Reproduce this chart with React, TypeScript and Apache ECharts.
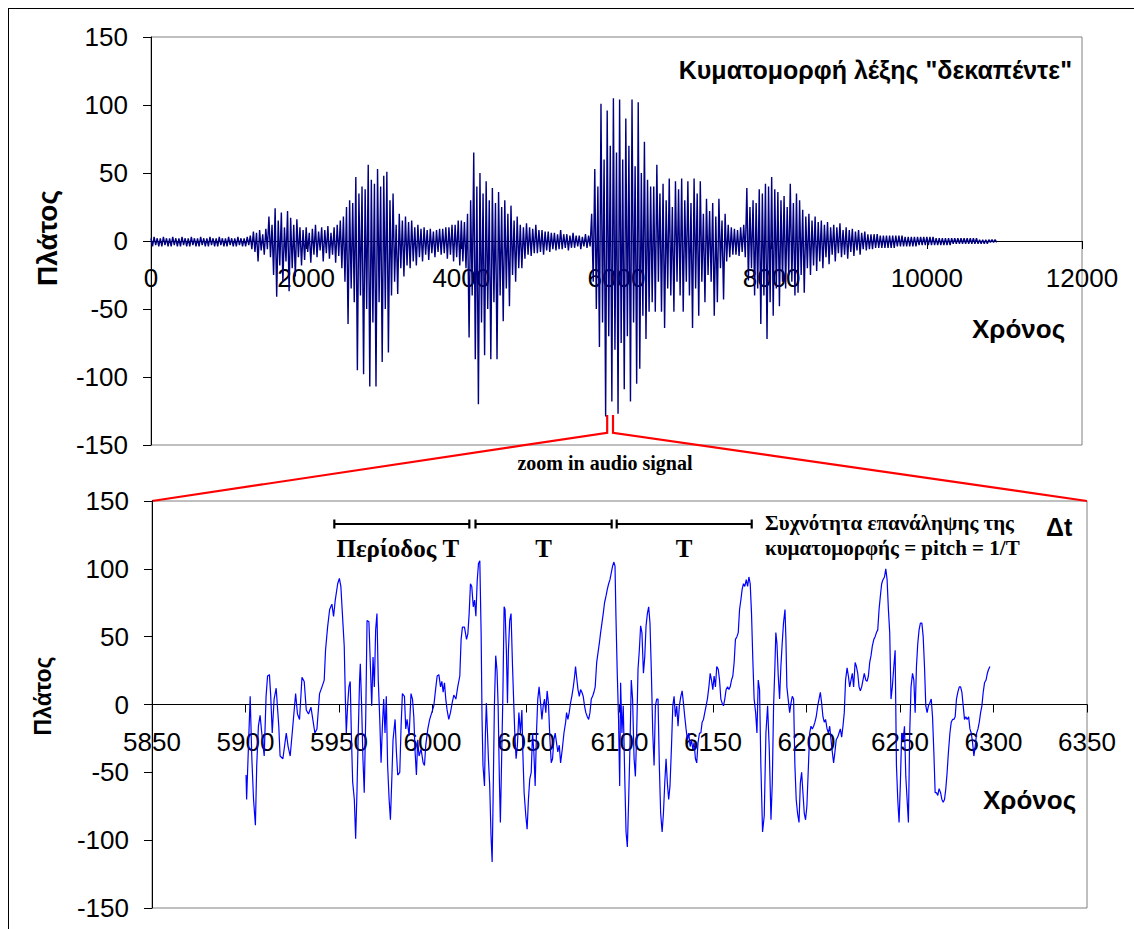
import React, { useEffect, useRef } from "react";
import * as echarts from "echarts";

// Word waveform "δεκαπέντε", summarised per bin of WORD_BIN time units:
// the highest and the lowest excursion inside each bin.
const WORD_BIN = 40;
const wordHigh: number[] = [
  // hum before the word
  2, 3, 2, 2, 3, 2, 2, 3, 2, 2, 3, 2, 2, 3, 2, 2, 3, 2, 2, 3, 2, 2, 3, 2, 2, 3, 2, 2, 3, 2, 2, 3,
  // δε
  4, 7, 6, 8, 5, 9,
  18, 12, 24, 15, 21, 10, 22, 17, 12, 16, 10,
  8, 10, 6, 9, 12, 7, 10, 8, 11, 6, 10, 12,
  15, 18, 25, 30, 28, 47, 35, 40, 38, 56, 45, 42, 53, 40, 48, 51, 30, 35,
  12, 20, 15, 18, 14, 15, 10, 12, 9, 10, 8, 9, 7, 8, 9, 9, 10, 10, 12, 12, 15, 15, 14,
  // κα
  20, 30, 65, 40, 50, 35, 44, 30, 39, 28, 36, 25, 30, 20, 26, 15, 18,
  12, 10, 13, 10, 9, 12, 8, 8, 7, 7, 6, 6, 5, 8, 5, 5, 4, 6, 4, 4, 3, 5, 4,
  // πέ
  20, 53, 40, 101, 60, 96, 70, 105, 65, 104, 60, 90, 70, 104, 55, 102, 50, 73, 45, 40,
  40, 56, 35, 42, 30, 46, 25, 44, 38, 46, 30, 44, 28, 46, 35, 44, 20, 31, 22, 28, 18, 31, 15, 20, 12, 10,
  9, 8, 10, 12,
  // ντε
  39, 25, 30, 28, 38, 35, 42, 40, 47, 38, 36, 30, 33, 25, 42, 28, 35, 30,
  23, 18, 20, 15, 18, 14, 15, 12, 14, 10, 12, 10, 13, 8, 10, 8, 9, 7, 8, 6, 7,
  5, 5, 5, 5, 4, 4, 4, 4, 4, 4, 4, 4, 3, 3, 3, 3, 3, 3, 3, 3, 3, 3, 2, 2, 2, 2, 2, 2, 2, 2,
  2, 2, 2, 2, 2, 2, 1, 1, 1, 1, 1, 1,
];
const wordLow: number[] = [
  -4, -3, -4, -4, -3, -4, -4, -3, -4, -4, -3, -4, -4, -3, -4, -4, -3, -4, -4, -3, -4, -4, -3, -4, -4, -3, -4, -4, -3, -4, -4, -3,
  -6, -8, -15, -7, -10, -6,
  -12, -25, -41, -18, -30, -15, -37, -20, -26, -12, -18,
  -14, -8, -16, -10, -12, -7, -15, -9, -13, -10, -16, -11,
  -20, -30, -61, -35, -45, -95, -40, -98, -50, -107, -60, -107, -45, -89, -50, -82, -40, -30,
  -39, -20, -26, -18, -20, -15, -18, -12, -15, -10, -14, -9, -12, -8, -10, -9, -13, -10, -15, -12, -18, -15, -20,
  -71, -40, -87, -120, -60, -84, -50, -87, -45, -87, -40, -59, -35, -48, -25, -30, -20,
  -20, -13, -10, -11, -9, -9, -8, -10, -7, -8, -6, -7, -6, -6, -5, -7, -5, -5, -4, -6, -4, -5, -4,
  -30, -50, -78, -60, -129, -70, -118, -80, -127, -75, -109, -70, -118, -60, -105, -94, -55, -72, -52, -45,
  -52, -30, -52, -64, -35, -40, -52, -30, -40, -52, -30, -40, -64, -35, -55, -30, -45, -25, -30, -55, -45, -20, -43, -15, -12, -10,
  -10, -11, -8, -12,
  -29, -20, -40, -35, -61, -40, -72, -45, -55, -35, -48, -30, -35, -25, -30, -40, -38, -25,
  -38, -20, -25, -18, -22, -15, -20, -12, -17, -10, -15, -9, -12, -10, -13, -8, -11, -7, -10, -6, -7,
  -6, -6, -5, -5, -5, -5, -5, -5, -5, -4, -4, -4, -4, -4, -4, -4, -3, -3, -3, -3, -3, -3, -3, -3, -3, -3, -3, -2, -2, -2,
  -2, -2, -2, -2, -2, -2, -2, -2, -2, -1, -1, -1,
];

// Close-up of the vowel: [time, amplitude]
const zoomSamples: [number, number][] = [
  [5900.3, -52], [5900.6, -70], [5902.5, 6], [5903.4, -40], [5904.3, -70], [5905.3, -89], [5906.0, -45], [5906.9, -16],
  [5907.8, -8], [5908.7, -21], [5910.0, -38], [5911.0, 6], [5911.8, 21], [5912.8, 22], [5913.5, 6], [5914.3, -21],
  [5915.3, 4], [5916.4, 12], [5917.8, -16], [5918.5, -38], [5920.0, -40], [5921.8, -21], [5922.8, -31], [5923.9, -38],
  [5925.3, -16], [5926.8, 8], [5927.8, -7], [5928.9, -11], [5930.2, 20], [5931.4, 17], [5932.5, -4], [5933.7, -7],
  [5935.0, -2], [5936.0, -11], [5937.1, -21], [5938.2, -18], [5939.6, 8], [5940.9, 13], [5942.1, 18], [5942.8, 40],
  [5943.9, 57], [5945.0, 70], [5946.2, 74], [5947.1, 65], [5948.0, 77], [5949.3, 89], [5950.2, 93], [5951.0, 87],
  [5952.1, 60], [5952.8, 43], [5953.4, 4], [5953.9, -21], [5954.6, -1], [5955.3, 13], [5956.0, 17], [5956.6, -21],
  [5957.3, -57], [5958.2, -70], [5958.9, -99], [5959.6, -65], [5960.3, -21], [5961.0, 18], [5961.4, 30], [5962.1, -1],
  [5962.8, -40], [5963.5, -65], [5964.3, -9], [5965.0, 62], [5966.0, 61], [5966.8, 28], [5967.5, -1], [5968.2, 35],
  [5968.9, 13], [5969.6, 55], [5970.3, 67], [5971.0, 18], [5971.8, -11], [5972.5, -43], [5973.2, -16], [5973.9, 4],
  [5974.6, -21], [5975.3, 6], [5976.0, -45], [5976.8, -70], [5977.5, -85], [5978.2, -57], [5978.9, -26], [5980.0, -11],
  [5980.7, -35], [5981.4, -52], [5982.5, -50], [5983.2, -16], [5983.9, 8], [5985.0, 6], [5985.7, -18], [5986.4, -11],
  [5987.5, -23], [5988.5, 8], [5989.3, 4], [5990.0, -9], [5990.7, -35], [5991.4, -52], [5992.1, -26], [5992.8, -38],
  [5993.9, -33], [5995.0, -43], [5995.7, -45], [5996.4, -30], [5997.5, -18], [5998.5, -11], [5999.6, -6], [6000.7, -1],
  [6001.8, 13], [6002.5, 21], [6003.4, 22], [6004.3, 13], [6005.0, 17], [6005.7, 9], [6006.4, 16], [6007.1, 4],
  [6007.8, -4], [6008.7, -11], [6009.6, -6], [6010.5, 1], [6011.4, 7], [6012.5, 4], [6013.5, 13], [6014.6, 21],
  [6015.3, 48], [6016.0, 57], [6017.1, 57], [6018.2, 48], [6018.9, 52], [6019.6, 67], [6020.3, 89], [6021.0, 87],
  [6021.8, 72], [6022.5, 77], [6023.2, 65], [6023.9, 91], [6024.6, 104], [6025.3, 106],
  [6026.0, 53], [6026.5, -11], [6027.0, -45], [6027.8, -60], [6028.3, -21], [6028.8, 1], [6029.4, -21], [6029.9, -40],
  [6030.6, -60], [6031.3, -97], [6031.9, -116], [6032.4, -70], [6033.1, -1], [6033.8, 36], [6034.5, 25], [6035.1, -1],
  [6035.8, -58], [6036.3, -87], [6036.9, -45], [6037.6, 4], [6038.3, 72], [6038.8, 70], [6039.5, 40], [6040.1, 1],
  [6040.6, 40], [6041.3, 62], [6042.0, 67], [6042.8, 28], [6043.5, -1], [6044.0, -21], [6044.7, -40], [6045.4, -30],
  [6046.2, -6], [6047.0, -21], [6047.8, -4], [6048.3, -35], [6049.0, -65], [6049.9, -82], [6050.6, -92], [6051.3, -70],
  [6052.0, -55], [6052.8, -50], [6053.5, -21], [6054.2, -35], [6054.9, -60], [6055.6, -21], [6056.3, 4], [6057.0, 13],
  [6057.8, 1], [6058.5, -11], [6059.2, -1], [6059.9, 4], [6060.6, -6], [6061.3, 10], [6062.0, 1], [6062.8, -26],
  [6063.5, -43], [6064.2, -40], [6064.9, -26], [6065.6, -21], [6066.3, -28], [6067.0, -35], [6067.8, -30], [6068.5, -43],
  [6069.4, -33], [6070.3, -21], [6071.2, -13], [6071.7, -6], [6072.4, -11], [6073.1, -6], [6073.8, 1], [6074.5, 6],
  [6075.3, 13], [6076.0, 21], [6076.5, 28], [6077.0, 21], [6077.8, 11], [6078.5, 6], [6079.2, 11], [6079.9, 9],
  [6080.6, 6], [6081.3, -1], [6082.0, -6], [6082.8, -9], [6083.5, -11], [6084.2, -6], [6084.9, 4], [6085.6, 6],
  [6086.3, 9], [6087.0, 13], [6087.8, 31], [6088.5, 38], [6089.2, 45], [6089.9, 53], [6090.6, 60], [6091.3, 67],
  [6092.0, 75], [6092.8, 80], [6093.5, 85], [6094.2, 89], [6094.9, 92], [6095.6, 97], [6096.3, 102], [6097.0, 105],
  [6097.6, 102], [6098.1, 65], [6098.8, 23], [6099.5, -11], [6100.1, -60], [6100.6, 16], [6101.3, -21], [6102.0, -1],
  [6102.8, -53], [6103.5, -94], [6104.2, -105], [6104.9, -70], [6105.6, -31], [6106.3, 18], [6107.0, 4], [6107.8, -40],
  [6108.5, -53], [6109.2, -21], [6109.9, 26], [6110.6, 40], [6111.3, 58], [6112.0, 53], [6112.8, 23], [6113.5, 35],
  [6114.2, 58], [6114.9, 67], [6115.6, 72], [6116.3, 60], [6117.0, 26], [6117.8, -21], [6118.5, -45], [6119.2, -1],
  [6119.9, 4], [6120.6, 4], [6121.3, -45], [6122.0, -80], [6122.8, -94], [6123.5, -80], [6124.2, -58], [6124.9, -40],
  [6125.6, -58], [6126.3, -70], [6127.0, -60], [6127.8, -31], [6128.5, -1], [6129.2, 6], [6129.9, -9], [6130.6, -1],
  [6131.3, -16], [6132.0, -1], [6132.8, 6], [6133.5, 10], [6134.2, 1], [6134.9, -9], [6135.6, -18], [6136.3, -26],
  [6137.0, -21], [6137.8, -31], [6138.5, -26], [6139.2, -33], [6139.9, -28], [6140.6, -40], [6141.3, -43], [6142.0, -28],
  [6142.8, -21], [6143.5, -21], [6144.2, -13], [6144.9, -11], [6145.6, -6], [6146.3, -1], [6147.0, 4], [6147.8, 13],
  [6148.5, 23], [6149.2, 18], [6149.9, 11], [6150.6, 21], [6151.3, 13], [6152.0, 28], [6152.8, 26], [6153.5, 18],
  [6154.2, 4], [6154.9, 1], [6155.6, -1], [6156.3, 4], [6157.0, 11], [6157.8, 13], [6158.5, 11], [6159.2, 13],
  [6159.9, 18], [6160.6, 21], [6161.3, 31], [6162.0, 48], [6162.8, 50], [6163.5, 53], [6164.2, 70], [6164.9, 77],
  [6165.6, 85], [6166.3, 89], [6167.0, 87], [6167.8, 92], [6168.5, 87], [6169.2, 94], [6169.9, 89], [6170.6, 67],
  [6171.3, 33], [6172.0, 4], [6172.8, -6], [6173.5, -21], [6174.2, 18], [6174.9, 11],
  [6175.6, -45], [6176.5, -94], [6177.4, -82], [6178.3, -21], [6179.2, -1], [6180.1, -33], [6181.0, -85], [6181.7, -58],
  [6182.4, -1], [6183.1, 28], [6183.6, 53], [6184.2, 45], [6184.9, 21], [6185.6, 4], [6186.3, 28], [6187.0, 45],
  [6187.7, 60], [6188.5, 70], [6189.0, 48], [6189.5, 13], [6190.2, 4], [6191.0, -6], [6191.7, 1], [6192.4, 6],
  [6193.1, 4], [6193.8, -45], [6194.5, -70], [6195.2, -80], [6196.0, -87], [6196.7, -58], [6197.4, -50], [6198.1, -65],
  [6198.8, -80], [6199.5, -85], [6200.2, -75], [6200.9, -50], [6201.7, -21], [6202.4, -16], [6203.1, -18], [6203.8, -16],
  [6204.5, -13], [6205.2, -9], [6206.0, -1], [6206.7, 4], [6207.4, 9], [6208.1, 1], [6208.8, -9], [6209.5, -13],
  [6210.2, -11], [6211.0, -18], [6211.7, -21], [6212.4, -16], [6213.1, -26], [6213.8, -35], [6214.5, -43], [6215.2, -35],
  [6215.9, -26], [6216.7, -24], [6217.4, -21], [6218.1, -18], [6218.8, -24], [6219.5, -16], [6220.2, -6], [6220.9, 18],
  [6221.7, 27], [6222.4, 21], [6223.1, 13], [6223.8, 18], [6224.5, 23], [6225.2, 13], [6226.0, 31], [6226.7, 28],
  [6227.4, 23], [6228.1, 13], [6228.8, 10], [6229.5, 13], [6230.2, 18], [6230.9, 23], [6231.7, 18], [6232.4, 17],
  [6233.1, 21], [6233.8, 31], [6234.5, 36], [6235.2, 43], [6236.0, 48], [6236.7, 50], [6237.4, 53], [6238.1, 55],
  [6238.8, 70], [6239.5, 80], [6240.2, 89], [6240.9, 92], [6241.7, 94], [6242.4, 100], [6243.1, 92], [6243.8, 70],
  [6244.5, 53], [6245.2, 4], [6245.9, 13], [6246.7, 28], [6247.4, 40], [6248.1, -45], [6248.8, -70], [6249.5, -87],
  [6250.2, -58], [6250.9, -21], [6251.7, -26], [6252.4, -16], [6253.1, -53], [6253.8, -70], [6254.5, -87], [6255.2, -21],
  [6255.9, 13], [6256.7, 23], [6257.4, 18], [6258.1, -6], [6258.8, 28], [6259.5, 45], [6260.2, 55], [6260.9, 60],
  [6261.7, 60], [6262.4, 50], [6263.1, 28], [6263.8, -1], [6264.5, -6], [6265.2, -1], [6265.9, 1], [6266.7, 4],
  [6267.4, -9], [6268.1, -35], [6268.8, -65], [6269.5, -65], [6270.2, -67], [6270.9, -62], [6271.7, -65], [6272.4, -70],
  [6273.1, -72], [6273.8, -70], [6274.5, -62], [6275.2, -50], [6275.9, -35], [6276.7, -21], [6277.4, -13], [6278.1, -11],
  [6278.8, -11], [6279.5, -9], [6280.2, 4], [6280.9, 9], [6281.7, 13], [6282.4, 13], [6283.1, 9], [6283.8, -1],
  [6284.5, -11], [6285.2, -9], [6285.9, -11], [6286.7, -9], [6287.4, -18], [6288.1, -21], [6288.8, -28], [6289.5, -38],
  [6290.2, -31], [6291.0, -21], [6291.7, -18], [6292.4, -13], [6293.1, -6], [6293.8, -1], [6294.5, 9], [6295.2, 16],
  [6296.0, 18], [6296.7, 23], [6297.4, 26], [6298.1, 28],
];

// Repetition periods marked above the close-up (time spans)
const periodSpans: [number, number][] = [
  [5947.5, 6019.7],
  [6023, 6095.8],
  [6098.5, 6170.7],
];
const periodLabels = ["Περίοδος T", "T", "T"];

// Part of the word that the close-up comes from (time span on the upper plot)
const zoomSource: [number, number] = [5880, 5955];

const SANS = '"Liberation Sans", Arial, sans-serif';
const SERIF = '"Liberation Serif", "Times New Roman", serif';

// x axis sits on the zero line, which is the middle of the symmetric amplitude range
function xAxis(min: number, max: number, interval: number, grid: number, gridHeight: number) {
  return {
    type: "value" as const,
    gridIndex: grid,
    position: "bottom" as const,
    offset: -gridHeight / 2,
    min,
    max,
    interval,
    axisLine: { show: true, onZero: false, lineStyle: { color: "#000", width: 1 } },
    axisTick: { show: true, inside: false, length: 8, lineStyle: { color: "#000" } },
    axisLabel: {
      color: "#000",
      fontFamily: SANS,
      fontSize: 26,
      margin: 24,
      showMinLabel: true,
      showMaxLabel: true,
      hideOverlap: false,
      formatter: (v: number) => String(v),
    },
    splitLine: { show: false },
  };
}

function yAxis(grid: number) {
  return {
    type: "value" as const,
    gridIndex: grid,
    min: -150,
    max: 150,
    interval: 50,
    axisLine: { show: true, onZero: false, lineStyle: { color: "#000", width: 1 } },
    axisTick: { show: true, inside: false, length: 8, lineStyle: { color: "#000" } },
    axisLabel: { color: "#000", fontFamily: SANS, fontSize: 26, margin: 23 },
    splitLine: { show: false },
  };
}

function txt(
  text: string,
  x: number,
  y: number,
  font: string,
  align: string,
  extra: Record<string, unknown> = {}
) {
  return {
    type: "text",
    x,
    y,
    ...extra,
    style: {
      text,
      font,
      fill: "#000",
      align,
      verticalAlign: "middle",
      textAlign: align,
      textVerticalAlign: "middle",
    },
  };
}

const TOP_H = 408;
const BOTTOM_H = 407;

export default function App() {
  const ref = useRef<HTMLDivElement>(null);

  useEffect(() => {
    const el = ref.current;
    if (!el) return;
    const chart = echarts.init(el, undefined, { renderer: "svg" });

    const wordData: number[][] = [];
    wordHigh.forEach((h, i) => {
      wordData.push([i * WORD_BIN, h]);
      wordData.push([i * WORD_BIN + WORD_BIN / 2, wordLow[i]]);
    });

    chart.setOption({
      animation: false,
      backgroundColor: "#fff",
      grid: [
        { left: 142, top: 28, width: 931, height: TOP_H, show: true, borderColor: "#808080", borderWidth: 1, backgroundColor: "transparent" },
        { left: 143, top: 492, width: 935, height: BOTTOM_H, show: true, borderColor: "#808080", borderWidth: 1, backgroundColor: "transparent" },
      ],
      xAxis: [xAxis(0, 12000, 2000, 0, TOP_H), xAxis(5850, 6350, 50, 1, BOTTOM_H)],
      yAxis: [yAxis(0), yAxis(1)],
      series: [
        {
          type: "line",
          xAxisIndex: 0,
          yAxisIndex: 0,
          data: wordData,
          symbol: "none",
          lineStyle: { color: "#000080", width: 1.4 },
          silent: true,
        },
        {
          type: "line",
          xAxisIndex: 1,
          yAxisIndex: 1,
          data: zoomSamples,
          symbol: "none",
          lineStyle: { color: "#0000FF", width: 1.2 },
          silent: true,
        },
      ],
    });

    const p0 = (x: number, y: number) => chart.convertToPixel({ gridIndex: 0 }, [x, y]) as number[];
    const p1 = (x: number, y: number) => chart.convertToPixel({ gridIndex: 1 }, [x, y]) as number[];

    const graphics: any[] = [];

    // Zoom connector: small bracket on the upper plot, lines out to the lower plot's corners
    const a = p0(zoomSource[0], -128);
    const b = p0(zoomSource[1], -128);
    const footY = p0(0, -141)[1];
    const cornerL = p1(5850, 150);
    const cornerR = p1(6350, 150);
    const red = { stroke: "#FF0000", lineWidth: 2.2, fill: null };
    graphics.push({
      type: "polyline",
      shape: { points: [[a[0], a[1]], [a[0], footY], [cornerL[0], cornerL[1]]] },
      style: red,
    });
    graphics.push({
      type: "polyline",
      shape: { points: [[b[0], b[1]], [b[0], footY], [cornerR[0], cornerR[1]]] },
      style: red,
    });
    graphics.push(txt("zoom in audio signal", 596, 454, `bold 20px ${SERIF}`, "center"));

    // Period brackets
    const bracketY = 515;
    periodSpans.forEach(([t0, t1], i) => {
      const x0 = p1(t0, 0)[0];
      const x1 = p1(t1, 0)[0];
      const s = { stroke: "#000", lineWidth: 2.2 };
      graphics.push({ type: "line", shape: { x1: x0, y1: bracketY, x2: x1, y2: bracketY }, style: s });
      graphics.push({ type: "line", shape: { x1: x0, y1: bracketY - 4.5, x2: x0, y2: bracketY + 4.5 }, style: s });
      graphics.push({ type: "line", shape: { x1: x1, y1: bracketY - 4.5, x2: x1, y2: bracketY + 4.5 }, style: s });
      graphics.push(txt(periodLabels[i], (x0 + x1) / 2 - (i === 0 ? 4 : 0), bracketY + 24, `bold 25px ${SERIF}`, "center"));
    });

    graphics.push(txt("Συχνότητα επανάληψης της", 756, 514, `bold 21px ${SERIF}`, "left"));
    graphics.push(txt("κυματομορφής = pitch = 1/T", 756, 539, `bold 21px ${SERIF}`, "left"));
    graphics.push(txt("Δt", 1037, 518, `bold 25px ${SANS}`, "left"));

    // Titles and axis names
    graphics.push(txt('Κυματομορφή λέξης "δεκαπέντε"', 1063, 61, `bold 25px ${SANS}`, "right"));
    graphics.push(txt("Χρόνος", 963, 320, `bold 26px ${SANS}`, "left"));
    graphics.push(txt("Χρόνος", 974, 791, `bold 26px ${SANS}`, "left"));
    graphics.push(txt("Πλάτος", 38, 229, `bold 28px ${SANS}`, "center", { rotation: Math.PI / 2 }));
    graphics.push(txt("Πλάτος", 34, 687, `bold 23px ${SANS}`, "center", { rotation: Math.PI / 2 }));

    chart.setOption({ graphic: graphics });

    return () => chart.dispose();
  }, []);

  return (
    <div
      style={{
        position: "fixed",
        left: 8,
        top: 8,
        width: 1200,
        height: 1000,
        borderLeft: "1px solid #000",
        borderTop: "1px solid #000",
        overflow: "hidden",
        background: "#fff",
      }}
    >
      <div ref={ref} style={{ width: 1125, height: 920 }} />
    </div>
  );
}
